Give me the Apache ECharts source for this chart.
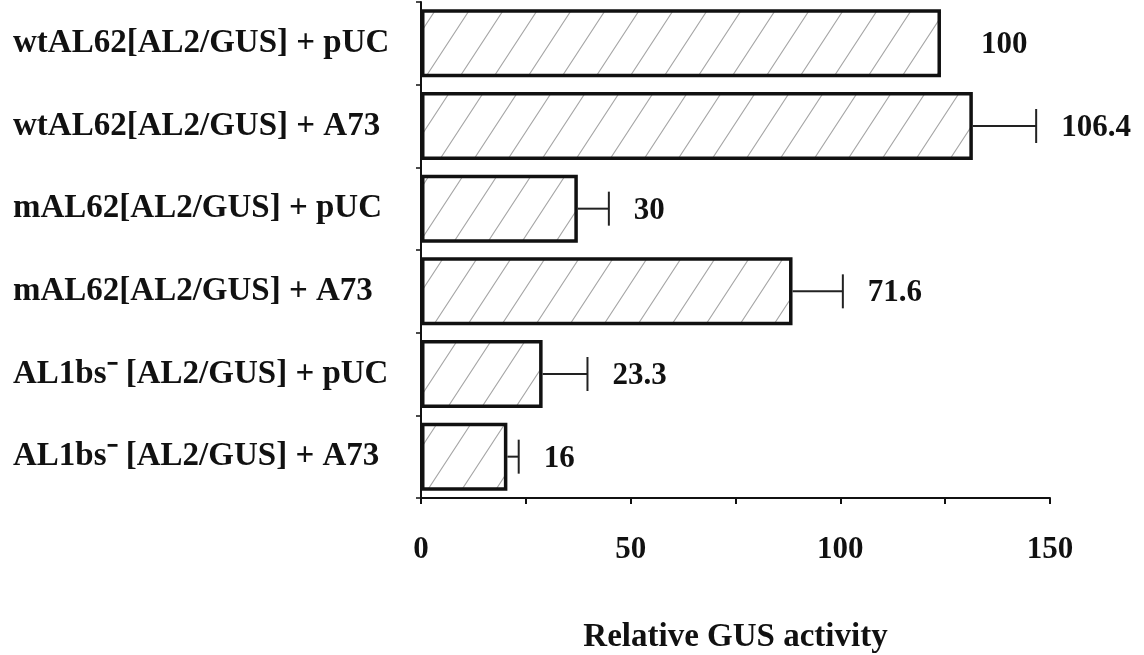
<!DOCTYPE html>
<html>
<head>
<meta charset="utf-8">
<script src="https://cdn.jsdelivr.net/npm/echarts@6/dist/echarts.min.js"></script>
<style>
  html, body { margin: 0; padding: 0; background: #fff; }
  #MainContent { width: 1144px; height: 655px; }
</style>
</head>
<body>
<div id="MainContent"></div>
<script>
var categories = [
    'wtAL62[AL2/GUS] + pUC',
    'wtAL62[AL2/GUS] + A73',
    'mAL62[AL2/GUS] + pUC',
    'mAL62[AL2/GUS] + A73',
    'AL1bs\u207B [AL2/GUS] + pUC',
    'AL1bs\u207B [AL2/GUS] + A73'
];
// bar lengths as drawn
var barValues = [124.0, 131.6, 37.4, 88.6, 29.0, 20.6];
// length of the error whisker beyond the bar end
var errValues = [0, 15.1, 7.4, 12.0, 10.7, 2.7];
// numbers printed next to the bars
var shownLabels = ['100', '106.4', '30', '71.6', '23.3', '16'];

var FONT = '"Liberation Serif", "Times New Roman", serif';

function hatch() {
    var w = 34, h = 52;
    var c = document.createElement('canvas');
    c.width = w;
    c.height = h;
    var ctx = c.getContext('2d');
    ctx.fillStyle = '#fff';
    ctx.fillRect(0, 0, w, h);
    ctx.strokeStyle = '#a6a6a6';
    ctx.lineWidth = 1.1;
    ctx.beginPath();
    ctx.moveTo(-w, 2 * h); ctx.lineTo(2 * w, -h);
    ctx.moveTo(-2 * w, 2 * h); ctx.lineTo(w, -h);
    ctx.moveTo(0, 2 * h); ctx.lineTo(3 * w, -h);
    ctx.stroke();
    return c;
}

function draw() {
    var chart = echarts.init(document.getElementById('MainContent'));

    var errData = barValues.map(function (v, i) {
        return [v, i, errValues[i]];
    });

    var option = {
        animation: false,
        grid: { left: 421, right: 94, top: 2, height: 496, outerBoundsMode: 'none', containLabel: false },
        xAxis: {
            type: 'value',
            min: 0,
            max: 150,
            interval: 25,
            name: 'Relative GUS activity',
            nameLocation: 'middle',
            nameGap: 123,
            nameTextStyle: { fontFamily: FONT, fontWeight: 'bold', fontSize: 33, color: '#111' },
            axisLine: { show: true, lineStyle: { color: '#111', width: 2 } },
            axisTick: { show: true, length: 6, lineStyle: { color: '#111', width: 2 } },
            splitLine: { show: false },
            axisLabel: {
                margin: 36,
                fontFamily: FONT, fontWeight: 'bold', fontSize: 31, color: '#111',
                formatter: function (v) { return v % 50 === 0 ? String(v) : ''; }
            }
        },
        yAxis: {
            type: 'category',
            inverse: true,
            data: categories,
            axisLine: { show: true, lineStyle: { color: '#111', width: 2 } },
            axisTick: { show: true, length: 5, lineStyle: { color: '#111', width: 1.5 } },
            axisLabel: {
                align: 'left',
                margin: 408,
                fontFamily: FONT, fontWeight: 'bold', fontSize: 33, color: '#111'
            }
        },
        series: [{
            type: 'bar',
            data: barValues,
            barWidth: 68,
            itemStyle: {
                color: { image: hatch(), repeat: 'repeat' },
                borderColor: '#111',
                borderWidth: 3.5
            },
            z: 2
        }, {
            type: 'custom',
            data: errData,
            z: 3,
            renderItem: function (params, api) {
                var v = api.value(0), idx = api.value(1), e = api.value(2);
                var start = api.coord([v, idx]);
                var end = api.coord([v + e, idx]);
                var cap = 17;
                var children = [];
                if (e > 0) {
                    children.push({
                        type: 'line',
                        shape: { x1: start[0], y1: start[1], x2: end[0], y2: end[1] },
                        style: { stroke: '#222', lineWidth: 2 }
                    });
                    children.push({
                        type: 'line',
                        shape: { x1: end[0], y1: end[1] - cap, x2: end[0], y2: end[1] + cap },
                        style: { stroke: '#222', lineWidth: 2 }
                    });
                }
                children.push({
                    type: 'text',
                    x: end[0] + (e > 0 ? 25 : 40),
                    y: end[1] + 2,
                    style: {
                        text: shownLabels[params.dataIndex],
                        fontFamily: FONT, fontWeight: 'bold', fontSize: 31,
                        fill: '#111',
                        align: 'left',
                        verticalAlign: 'middle'
                    }
                });
                return { type: 'group', children: children };
            }
        }]
    };

    chart.setOption(option);
    window.onresize = chart.resize;
}

draw();
</script>
</body>
</html>
